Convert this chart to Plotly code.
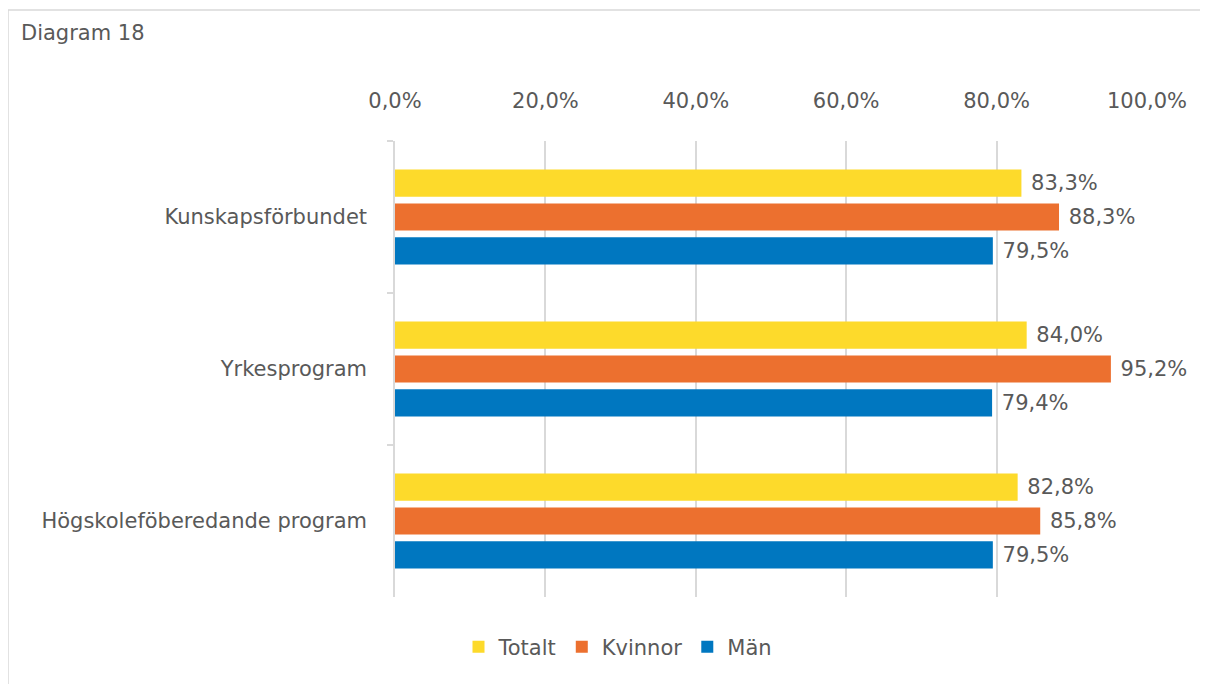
import plotly.graph_objects as go

categories = ["Kunskapsförbundet", "Yrkesprogram", "Högskoleföberedande program"]
totalt = [0.833, 0.840, 0.828]
kvinnor = [0.883, 0.952, 0.858]
man = [0.795, 0.794, 0.795]
tick_vals = [0, 0.2, 0.4, 0.6, 0.8, 1.0]

OFF = 8  # page body margin
W, H = 1208 - OFF, 684 - OFF
L, R, T, B = 395 - OFF, 1208 - 1147, 141 - OFF, 684 - 597
pw, ph = W - L - R, H - T - B

def px(x):
    return (x - OFF - L) / pw

def py(y):
    return (H - B - (y - OFF)) / ph

txt = "#595959"
font = "'DejaVu Sans', sans-serif"
fs = 21

fig = go.Figure()
for name, vals, col in [("Totalt", totalt, "#FDDA2B"),
                        ("Kvinnor", kvinnor, "#EC702F"),
                        ("Män", man, "#0077C0")]:
    fig.add_trace(go.Bar(
        y=categories, x=vals, name=name, orientation="h",
        marker=dict(color=col, line=dict(width=0)),
        texttemplate="\u00a0%{x:.1%}", textposition="outside",
        textfont=dict(color=txt, size=fs), cliponaxis=False,
    ))

fig.update_layout(
    width=W, height=H,
    margin=dict(l=L, r=R, t=T, b=B),
    paper_bgcolor="white", plot_bgcolor="white",
    separators=", ",
    font=dict(family=font, color=txt, size=fs),
    barmode="group", bargap=0.33, bargroupgap=0.2,
    showlegend=True,
    legend=dict(orientation="h", x=px(618), y=py(647), xanchor="center",
                yanchor="middle", font=dict(size=fs, color=txt),
                traceorder="normal", itemwidth=30),
    xaxis=dict(side="top", range=[0, 1], tickvals=tick_vals,
               tickformat=".1%", showgrid=True, gridcolor="#D9D9D9",
               gridwidth=1.5, zeroline=False, showline=False,
               ticks="", ticklabelstandoff=28,
               tickfont=dict(size=fs, color=txt)),
    yaxis=dict(autorange="reversed", showline=True, linecolor="#D9D9D9",
               linewidth=1.5, ticks="outside", tickson="boundaries",
               ticklen=6, tickcolor="#D9D9D9", tickwidth=1.5,
               ticklabelstandoff=22, showgrid=False,
               tickfont=dict(size=fs, color=txt)),
    annotations=[dict(text="Diagram 18", xref="paper", yref="paper",
                      x=px(19), y=py(33), xanchor="left", yanchor="middle",
                      showarrow=False, font=dict(size=fs, color=txt))],
    shapes=[dict(type="rect", xref="paper", yref="paper",
                 x0=px(8), x1=px(1230), y0=py(10), y1=py(710),
                 line=dict(color="#D9D9D9", width=1.5), fillcolor="rgba(0,0,0,0)",
                 layer="below")],
)

fig.write_html("out.html")
